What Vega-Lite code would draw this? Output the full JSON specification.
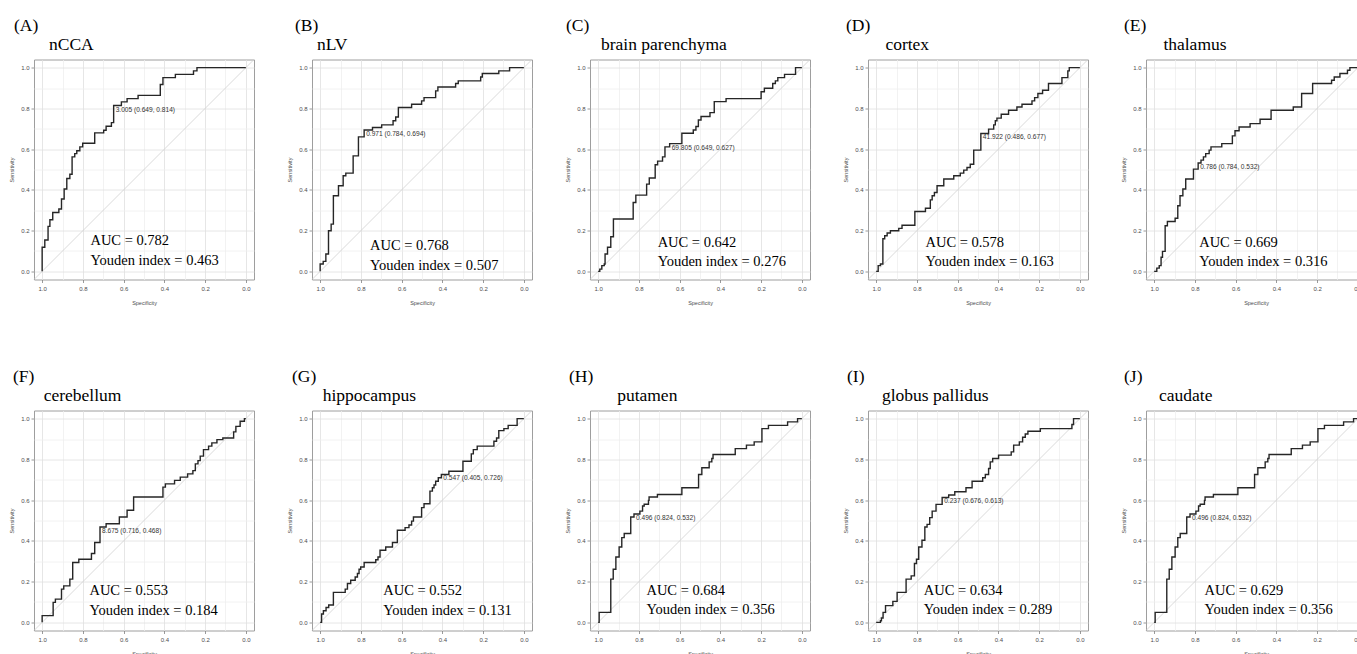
{
"$schema":"https://vega.github.io/schema/vega-lite/v6.json",
"padding":{"left":9,"top":16.5,"right":0,"bottom":0},
"columns":5,
"spacing":{"row":131,"column":58},
"bounds":"flush",
"datasets":{
"diag":[{"spec":1.04,"sens":-0.04},{"spec":-0.04,"sens":1.04}],
"thr":[
{"panel":"A","spec":0.649,"sens":0.814,"label":"3.005 (0.649, 0.814)"},
{"panel":"B","spec":0.784,"sens":0.694,"label":"0.971 (0.784, 0.694)"},
{"panel":"C","spec":0.649,"sens":0.627,"label":"69.805 (0.649, 0.627)"},
{"panel":"D","spec":0.486,"sens":0.677,"label":"41.922 (0.486, 0.677)"},
{"panel":"E","spec":0.784,"sens":0.532,"label":"0.786 (0.784, 0.532)"},
{"panel":"F","spec":0.716,"sens":0.468,"label":"8.675 (0.716, 0.468)"},
{"panel":"G","spec":0.405,"sens":0.726,"label":"0.547 (0.405, 0.726)"},
{"panel":"H","spec":0.824,"sens":0.532,"label":"0.496 (0.824, 0.532)"},
{"panel":"I","spec":0.676,"sens":0.613,"label":"0.237 (0.676, 0.613)"},
{"panel":"J","spec":0.824,"sens":0.532,"label":"0.496 (0.824, 0.532)"}
],
"auc":[
{"panel":"A","spec":0.763,"sens":0.147,"label":"AUC = 0.782"},
{"panel":"A","spec":0.763,"sens":0.049,"label":"Youden index = 0.463"},
{"panel":"B","spec":0.755,"sens":0.123,"label":"AUC = 0.768"},
{"panel":"B","spec":0.755,"sens":0.025,"label":"Youden index = 0.507"},
{"panel":"C","spec":0.708,"sens":0.141,"label":"AUC = 0.642"},
{"panel":"C","spec":0.708,"sens":0.044,"label":"Youden index = 0.276"},
{"panel":"D","spec":0.758,"sens":0.141,"label":"AUC = 0.578"},
{"panel":"D","spec":0.758,"sens":0.046,"label":"Youden index = 0.163"},
{"panel":"E","spec":0.779,"sens":0.139,"label":"AUC = 0.669"},
{"panel":"E","spec":0.779,"sens":0.047,"label":"Youden index = 0.316"},
{"panel":"F","spec":0.768,"sens":0.155,"label":"AUC = 0.553"},
{"panel":"F","spec":0.768,"sens":0.057,"label":"Youden index = 0.184"},
{"panel":"G","spec":0.690,"sens":0.155,"label":"AUC = 0.552"},
{"panel":"G","spec":0.690,"sens":0.057,"label":"Youden index = 0.131"},
{"panel":"H","spec":0.763,"sens":0.155,"label":"AUC = 0.684"},
{"panel":"H","spec":0.763,"sens":0.060,"label":"Youden index = 0.356"},
{"panel":"I","spec":0.766,"sens":0.155,"label":"AUC = 0.634"},
{"panel":"I","spec":0.766,"sens":0.060,"label":"Youden index = 0.289"},
{"panel":"J","spec":0.753,"sens":0.155,"label":"AUC = 0.629"},
{"panel":"J","spec":0.753,"sens":0.060,"label":"Youden index = 0.356"}
],
"roc":[
{"panel":"A","spec":1,"sens":0},{"panel":"A","spec":1,"sens":0.118},{"panel":"A","spec":0.987,"sens":0.154},{"panel":"A","spec":0.971,"sens":0.221},{"panel":"A","spec":0.962,"sens":0.253},{"panel":"A","spec":0.948,"sens":0.289},{"panel":"A","spec":0.918,"sens":0.306},{"panel":"A","spec":0.905,"sens":0.355},{"panel":"A","spec":0.892,"sens":0.404},{"panel":"A","spec":0.879,"sens":0.456},{"panel":"A","spec":0.864,"sens":0.477},{"panel":"A","spec":0.853,"sens":0.562},{"panel":"A","spec":0.840,"sens":0.578},{"panel":"A","spec":0.830,"sens":0.592},{"panel":"A","spec":0.815,"sens":0.611},{"panel":"A","spec":0.801,"sens":0.629},{"panel":"A","spec":0.742,"sens":0.680},{"panel":"A","spec":0.698,"sens":0.693},{"panel":"A","spec":0.686,"sens":0.712},{"panel":"A","spec":0.660,"sens":0.730},{"panel":"A","spec":0.649,"sens":0.814},{"panel":"A","spec":0.611,"sens":0.832},{"panel":"A","spec":0.583,"sens":0.848},{"panel":"A","spec":0.529,"sens":0.864},{"panel":"A","spec":0.420,"sens":0.917},{"panel":"A","spec":0.407,"sens":0.951},{"panel":"A","spec":0.346,"sens":0.967},{"panel":"A","spec":0.257,"sens":0.984},{"panel":"A","spec":0.240,"sens":1},{"panel":"A","spec":0,"sens":1},
{"panel":"B","spec":1,"sens":0},{"panel":"B","spec":1,"sens":0.036},{"panel":"B","spec":0.985,"sens":0.049},{"panel":"B","spec":0.972,"sens":0.085},{"panel":"B","spec":0.959,"sens":0.199},{"panel":"B","spec":0.946,"sens":0.232},{"panel":"B","spec":0.935,"sens":0.371},{"panel":"B","spec":0.910,"sens":0.420},{"panel":"B","spec":0.887,"sens":0.469},{"panel":"B","spec":0.874,"sens":0.482},{"panel":"B","spec":0.838,"sens":0.567},{"panel":"B","spec":0.812,"sens":0.660},{"panel":"B","spec":0.784,"sens":0.694},{"panel":"B","spec":0.743,"sens":0.706},{"panel":"B","spec":0.698,"sens":0.719},{"panel":"B","spec":0.642,"sens":0.739},{"panel":"B","spec":0.629,"sens":0.758},{"panel":"B","spec":0.616,"sens":0.804},{"panel":"B","spec":0.551,"sens":0.820},{"panel":"B","spec":0.502,"sens":0.837},{"panel":"B","spec":0.490,"sens":0.853},{"panel":"B","spec":0.433,"sens":0.886},{"panel":"B","spec":0.422,"sens":0.905},{"panel":"B","spec":0.335,"sens":0.922},{"panel":"B","spec":0.322,"sens":0.935},{"panel":"B","spec":0.212,"sens":0.954},{"panel":"B","spec":0.204,"sens":0.971},{"panel":"B","spec":0.123,"sens":0.984},{"panel":"B","spec":0.070,"sens":1},{"panel":"B","spec":0,"sens":1},
{"panel":"C","spec":1,"sens":0},{"panel":"C","spec":0.992,"sens":0.011},{"panel":"C","spec":0.982,"sens":0.028},{"panel":"C","spec":0.970,"sens":0.036},{"panel":"C","spec":0.966,"sens":0.085},{"panel":"C","spec":0.954,"sens":0.118},{"panel":"C","spec":0.938,"sens":0.170},{"panel":"C","spec":0.925,"sens":0.257},{"panel":"C","spec":0.828,"sens":0.338},{"panel":"C","spec":0.815,"sens":0.374},{"panel":"C","spec":0.762,"sens":0.428},{"panel":"C","spec":0.749,"sens":0.458},{"panel":"C","spec":0.720,"sens":0.523},{"panel":"C","spec":0.708,"sens":0.541},{"panel":"C","spec":0.684,"sens":0.562},{"panel":"C","spec":0.672,"sens":0.611},{"panel":"C","spec":0.649,"sens":0.627},{"panel":"C","spec":0.589,"sens":0.678},{"panel":"C","spec":0.533,"sens":0.694},{"panel":"C","spec":0.520,"sens":0.711},{"panel":"C","spec":0.508,"sens":0.743},{"panel":"C","spec":0.495,"sens":0.760},{"panel":"C","spec":0.451,"sens":0.779},{"panel":"C","spec":0.430,"sens":0.833},{"panel":"C","spec":0.372,"sens":0.848},{"panel":"C","spec":0.200,"sens":0.882},{"panel":"C","spec":0.184,"sens":0.899},{"panel":"C","spec":0.143,"sens":0.922},{"panel":"C","spec":0.130,"sens":0.935},{"panel":"C","spec":0.118,"sens":0.951},{"panel":"C","spec":0.085,"sens":0.967},{"panel":"C","spec":0.031,"sens":1},{"panel":"C","spec":0,"sens":1},
{"panel":"D","spec":1,"sens":0},{"panel":"D","spec":0.990,"sens":0.028},{"panel":"D","spec":0.979,"sens":0.036},{"panel":"D","spec":0.967,"sens":0.160},{"panel":"D","spec":0.958,"sens":0.175},{"panel":"D","spec":0.946,"sens":0.188},{"panel":"D","spec":0.930,"sens":0.199},{"panel":"D","spec":0.889,"sens":0.211},{"panel":"D","spec":0.873,"sens":0.226},{"panel":"D","spec":0.810,"sens":0.294},{"panel":"D","spec":0.758,"sens":0.310},{"panel":"D","spec":0.734,"sens":0.351},{"panel":"D","spec":0.725,"sens":0.371},{"panel":"D","spec":0.714,"sens":0.387},{"panel":"D","spec":0.701,"sens":0.420},{"panel":"D","spec":0.668,"sens":0.453},{"panel":"D","spec":0.619,"sens":0.469},{"panel":"D","spec":0.587,"sens":0.482},{"panel":"D","spec":0.570,"sens":0.497},{"panel":"D","spec":0.554,"sens":0.510},{"panel":"D","spec":0.538,"sens":0.526},{"panel":"D","spec":0.521,"sens":0.595},{"panel":"D","spec":0.486,"sens":0.677},{"panel":"D","spec":0.448,"sens":0.698},{"panel":"D","spec":0.423,"sens":0.719},{"panel":"D","spec":0.415,"sens":0.739},{"panel":"D","spec":0.407,"sens":0.752},{"panel":"D","spec":0.386,"sens":0.771},{"panel":"D","spec":0.350,"sens":0.791},{"panel":"D","spec":0.309,"sens":0.807},{"panel":"D","spec":0.284,"sens":0.820},{"panel":"D","spec":0.235,"sens":0.837},{"panel":"D","spec":0.222,"sens":0.853},{"panel":"D","spec":0.206,"sens":0.873},{"panel":"D","spec":0.183,"sens":0.889},{"panel":"D","spec":0.154,"sens":0.922},{"panel":"D","spec":0.088,"sens":0.951},{"panel":"D","spec":0.059,"sens":0.984},{"panel":"D","spec":0.052,"sens":1},{"panel":"D","spec":0,"sens":1},
{"panel":"E","spec":1,"sens":0},{"panel":"E","spec":0.987,"sens":0.016},{"panel":"E","spec":0.975,"sens":0.028},{"panel":"E","spec":0.966,"sens":0.069},{"panel":"E","spec":0.959,"sens":0.098},{"panel":"E","spec":0.946,"sens":0.224},{"panel":"E","spec":0.935,"sens":0.245},{"panel":"E","spec":0.897,"sens":0.261},{"panel":"E","spec":0.884,"sens":0.322},{"panel":"E","spec":0.873,"sens":0.371},{"panel":"E","spec":0.859,"sens":0.404},{"panel":"E","spec":0.845,"sens":0.453},{"panel":"E","spec":0.807,"sens":0.502},{"panel":"E","spec":0.784,"sens":0.532},{"panel":"E","spec":0.770,"sens":0.546},{"panel":"E","spec":0.758,"sens":0.562},{"panel":"E","spec":0.747,"sens":0.578},{"panel":"E","spec":0.730,"sens":0.595},{"panel":"E","spec":0.721,"sens":0.611},{"panel":"E","spec":0.668,"sens":0.627},{"panel":"E","spec":0.616,"sens":0.665},{"panel":"E","spec":0.603,"sens":0.690},{"panel":"E","spec":0.583,"sens":0.709},{"panel":"E","spec":0.529,"sens":0.725},{"panel":"E","spec":0.480,"sens":0.747},{"panel":"E","spec":0.426,"sens":0.791},{"panel":"E","spec":0.317,"sens":0.807},{"panel":"E","spec":0.276,"sens":0.873},{"panel":"E","spec":0.222,"sens":0.922},{"panel":"E","spec":0.129,"sens":0.938},{"panel":"E","spec":0.116,"sens":0.954},{"panel":"E","spec":0.088,"sens":0.971},{"panel":"E","spec":0.051,"sens":0.987},{"panel":"E","spec":0.039,"sens":1},{"panel":"E","spec":0,"sens":1},
{"panel":"F","spec":1,"sens":0},{"panel":"F","spec":1,"sens":0.033},{"panel":"F","spec":0.946,"sens":0.098},{"panel":"F","spec":0.935,"sens":0.114},{"panel":"F","spec":0.905,"sens":0.163},{"panel":"F","spec":0.894,"sens":0.179},{"panel":"F","spec":0.864,"sens":0.212},{"panel":"F","spec":0.850,"sens":0.294},{"panel":"F","spec":0.820,"sens":0.310},{"panel":"F","spec":0.758,"sens":0.338},{"panel":"F","spec":0.742,"sens":0.392},{"panel":"F","spec":0.716,"sens":0.468},{"panel":"F","spec":0.686,"sens":0.484},{"panel":"F","spec":0.621,"sens":0.517},{"panel":"F","spec":0.583,"sens":0.550},{"panel":"F","spec":0.551,"sens":0.615},{"panel":"F","spec":0.407,"sens":0.664},{"panel":"F","spec":0.395,"sens":0.680},{"panel":"F","spec":0.350,"sens":0.697},{"panel":"F","spec":0.322,"sens":0.713},{"panel":"F","spec":0.286,"sens":0.729},{"panel":"F","spec":0.260,"sens":0.745},{"panel":"F","spec":0.248,"sens":0.778},{"panel":"F","spec":0.235,"sens":0.794},{"panel":"F","spec":0.224,"sens":0.816},{"panel":"F","spec":0.208,"sens":0.848},{"panel":"F","spec":0.183,"sens":0.865},{"panel":"F","spec":0.167,"sens":0.881},{"panel":"F","spec":0.142,"sens":0.897},{"panel":"F","spec":0.113,"sens":0.905},{"panel":"F","spec":0.060,"sens":0.935},{"panel":"F","spec":0.049,"sens":0.962},{"panel":"F","spec":0.028,"sens":0.987},{"panel":"F","spec":0.007,"sens":1},{"panel":"F","spec":0,"sens":1},
{"panel":"G","spec":1,"sens":0},{"panel":"G","spec":0.993,"sens":0.041},{"panel":"G","spec":0.984,"sens":0.057},{"panel":"G","spec":0.971,"sens":0.073},{"panel":"G","spec":0.958,"sens":0.085},{"panel":"G","spec":0.935,"sens":0.147},{"panel":"G","spec":0.877,"sens":0.163},{"panel":"G","spec":0.866,"sens":0.191},{"panel":"G","spec":0.850,"sens":0.207},{"panel":"G","spec":0.828,"sens":0.223},{"panel":"G","spec":0.817,"sens":0.240},{"panel":"G","spec":0.809,"sens":0.261},{"panel":"G","spec":0.801,"sens":0.272},{"panel":"G","spec":0.784,"sens":0.294},{"panel":"G","spec":0.727,"sens":0.307},{"panel":"G","spec":0.716,"sens":0.321},{"panel":"G","spec":0.706,"sens":0.354},{"panel":"G","spec":0.678,"sens":0.370},{"panel":"G","spec":0.645,"sens":0.392},{"panel":"G","spec":0.621,"sens":0.452},{"panel":"G","spec":0.583,"sens":0.465},{"panel":"G","spec":0.564,"sens":0.478},{"panel":"G","spec":0.551,"sens":0.497},{"panel":"G","spec":0.542,"sens":0.517},{"panel":"G","spec":0.502,"sens":0.563},{"panel":"G","spec":0.490,"sens":0.582},{"panel":"G","spec":0.461,"sens":0.644},{"panel":"G","spec":0.449,"sens":0.661},{"panel":"G","spec":0.441,"sens":0.674},{"panel":"G","spec":0.433,"sens":0.693},{"panel":"G","spec":0.420,"sens":0.710},{"panel":"G","spec":0.405,"sens":0.726},{"panel":"G","spec":0.368,"sens":0.742},{"panel":"G","spec":0.299,"sens":0.791},{"panel":"G","spec":0.258,"sens":0.827},{"panel":"G","spec":0.248,"sens":0.848},{"panel":"G","spec":0.229,"sens":0.865},{"panel":"G","spec":0.147,"sens":0.889},{"panel":"G","spec":0.134,"sens":0.905},{"panel":"G","spec":0.123,"sens":0.941},{"panel":"G","spec":0.098,"sens":0.951},{"panel":"G","spec":0.077,"sens":0.967},{"panel":"G","spec":0.033,"sens":1},{"panel":"G","spec":0,"sens":1},
{"panel":"H","spec":1,"sens":0},{"panel":"H","spec":0.995,"sens":0.049},{"panel":"H","spec":0.938,"sens":0.212},{"panel":"H","spec":0.926,"sens":0.261},{"panel":"H","spec":0.913,"sens":0.321},{"panel":"H","spec":0.897,"sens":0.370},{"panel":"H","spec":0.884,"sens":0.416},{"panel":"H","spec":0.872,"sens":0.436},{"panel":"H","spec":0.840,"sens":0.517},{"panel":"H","spec":0.824,"sens":0.532},{"panel":"H","spec":0.795,"sens":0.546},{"panel":"H","spec":0.782,"sens":0.571},{"panel":"H","spec":0.774,"sens":0.580},{"panel":"H","spec":0.753,"sens":0.599},{"panel":"H","spec":0.750,"sens":0.615},{"panel":"H","spec":0.709,"sens":0.628},{"panel":"H","spec":0.589,"sens":0.661},{"panel":"H","spec":0.507,"sens":0.726},{"panel":"H","spec":0.491,"sens":0.759},{"panel":"H","spec":0.455,"sens":0.788},{"panel":"H","spec":0.442,"sens":0.804},{"panel":"H","spec":0.436,"sens":0.824},{"panel":"H","spec":0.327,"sens":0.853},{"panel":"H","spec":0.272,"sens":0.870},{"panel":"H","spec":0.234,"sens":0.886},{"panel":"H","spec":0.196,"sens":0.951},{"panel":"H","spec":0.164,"sens":0.967},{"panel":"H","spec":0.070,"sens":0.984},{"panel":"H","spec":0.021,"sens":1},{"panel":"H","spec":0,"sens":1},
{"panel":"I","spec":1,"sens":0},{"panel":"I","spec":0.979,"sens":0.008},{"panel":"I","spec":0.974,"sens":0.021},{"panel":"I","spec":0.966,"sens":0.049},{"panel":"I","spec":0.954,"sens":0.082},{"panel":"I","spec":0.918,"sens":0.103},{"panel":"I","spec":0.897,"sens":0.147},{"panel":"I","spec":0.853,"sens":0.212},{"panel":"I","spec":0.828,"sens":0.228},{"panel":"I","spec":0.812,"sens":0.289},{"panel":"I","spec":0.802,"sens":0.310},{"panel":"I","spec":0.791,"sens":0.370},{"panel":"I","spec":0.775,"sens":0.403},{"panel":"I","spec":0.761,"sens":0.468},{"panel":"I","spec":0.750,"sens":0.481},{"panel":"I","spec":0.737,"sens":0.514},{"panel":"I","spec":0.725,"sens":0.546},{"panel":"I","spec":0.706,"sens":0.579},{"panel":"I","spec":0.676,"sens":0.613},{"panel":"I","spec":0.644,"sens":0.625},{"panel":"I","spec":0.614,"sens":0.641},{"panel":"I","spec":0.559,"sens":0.661},{"panel":"I","spec":0.529,"sens":0.693},{"panel":"I","spec":0.477,"sens":0.710},{"panel":"I","spec":0.464,"sens":0.726},{"panel":"I","spec":0.448,"sens":0.755},{"panel":"I","spec":0.440,"sens":0.788},{"panel":"I","spec":0.428,"sens":0.804},{"panel":"I","spec":0.399,"sens":0.821},{"panel":"I","spec":0.337,"sens":0.837},{"panel":"I","spec":0.325,"sens":0.870},{"panel":"I","spec":0.297,"sens":0.886},{"panel":"I","spec":0.281,"sens":0.909},{"panel":"I","spec":0.268,"sens":0.925},{"panel":"I","spec":0.255,"sens":0.938},{"panel":"I","spec":0.194,"sens":0.951},{"panel":"I","spec":0.039,"sens":0.971},{"panel":"I","spec":0.031,"sens":1},{"panel":"I","spec":0,"sens":1},
{"panel":"J","spec":1,"sens":0},{"panel":"J","spec":0.995,"sens":0.049},{"panel":"J","spec":0.938,"sens":0.212},{"panel":"J","spec":0.926,"sens":0.261},{"panel":"J","spec":0.913,"sens":0.321},{"panel":"J","spec":0.897,"sens":0.370},{"panel":"J","spec":0.884,"sens":0.416},{"panel":"J","spec":0.872,"sens":0.436},{"panel":"J","spec":0.840,"sens":0.517},{"panel":"J","spec":0.824,"sens":0.532},{"panel":"J","spec":0.795,"sens":0.546},{"panel":"J","spec":0.782,"sens":0.571},{"panel":"J","spec":0.774,"sens":0.580},{"panel":"J","spec":0.753,"sens":0.599},{"panel":"J","spec":0.750,"sens":0.615},{"panel":"J","spec":0.709,"sens":0.628},{"panel":"J","spec":0.589,"sens":0.661},{"panel":"J","spec":0.507,"sens":0.726},{"panel":"J","spec":0.491,"sens":0.759},{"panel":"J","spec":0.455,"sens":0.788},{"panel":"J","spec":0.442,"sens":0.804},{"panel":"J","spec":0.436,"sens":0.824},{"panel":"J","spec":0.327,"sens":0.853},{"panel":"J","spec":0.272,"sens":0.870},{"panel":"J","spec":0.234,"sens":0.886},{"panel":"J","spec":0.196,"sens":0.951},{"panel":"J","spec":0.164,"sens":0.967},{"panel":"J","spec":0.070,"sens":0.984},{"panel":"J","spec":0.021,"sens":1},{"panel":"J","spec":0,"sens":1}
]
},
"concat":[
{"width":220,"height":220,"title":{"text":"(A)","subtitle":"\u200b\u00a0\u00a0\u00a0\u00a0\u00a0\u00a0\u00a0\u00a0nCCA","dx":-20},
"encoding":{"x":{"field":"spec","type":"quantitative","title":"Specificity","scale":{"domain":[-0.04,1.04],"reverse":true,"nice":false,"zero":false},"axis":{"values":[0,0.1,0.2,0.3,0.4,0.5,0.6,0.7,0.8,0.9,1],"labelExpr":"round(datum.value*10)%2==0 ? format(datum.value,'.1f') : ''","tickOpacity":{"condition":{"test":"round(datum.value*10)%2==0","value":1},"value":0},"gridColor":{"condition":{"test":"round(datum.value*10)%2==0","value":"#e0e0e0"},"value":"#efefef"}}},
"y":{"field":"sens","type":"quantitative","title":"Sensitivity","scale":{"domain":[-0.04,1.04],"nice":false,"zero":false},"axis":{"values":[0,0.1,0.2,0.3,0.4,0.5,0.6,0.7,0.8,0.9,1],"labelExpr":"round(datum.value*10)%2==0 ? format(datum.value,'.1f') : ''","tickOpacity":{"condition":{"test":"round(datum.value*10)%2==0","value":1},"value":0},"gridColor":{"condition":{"test":"round(datum.value*10)%2==0","value":"#e0e0e0"},"value":"#efefef"}}}},
"layer":[
{"data":{"name":"diag"},"mark":{"type":"line","color":"#d0d0d0","strokeWidth":0.8}},
{"data":{"name":"roc"},"transform":[{"filter":"datum.panel=='A'"}],"mark":{"type":"line","interpolate":"step-after","color":"#262626","strokeWidth":1.4},"encoding":{"order":[{"field":"spec","sort":"descending"},{"field":"sens","sort":"ascending"}]}},
{"data":{"name":"thr"},"transform":[{"filter":"datum.panel=='A'"}],"mark":{"type":"text","align":"left","baseline":"top","dx":2,"dy":1,"font":"Liberation Sans","fontSize":6.6,"color":"#333333"},"encoding":{"text":{"field":"label"}}},
{"data":{"name":"auc"},"transform":[{"filter":"datum.panel=='A'"}],"mark":{"type":"text","align":"left","baseline":"middle","font":"Liberation Serif","fontSize":14.5,"color":"black"},"encoding":{"text":{"field":"label"}}}
]},
{"width":220,"height":220,"title":{"text":"(B)","subtitle":"\u200b\u00a0\u00a0\u00a0\u00a0\u00a0nLV","dx":-17},
"encoding":{"x":{"field":"spec","type":"quantitative","title":"Specificity","scale":{"domain":[-0.04,1.04],"reverse":true,"nice":false,"zero":false},"axis":{"values":[0,0.1,0.2,0.3,0.4,0.5,0.6,0.7,0.8,0.9,1],"labelExpr":"round(datum.value*10)%2==0 ? format(datum.value,'.1f') : ''","tickOpacity":{"condition":{"test":"round(datum.value*10)%2==0","value":1},"value":0},"gridColor":{"condition":{"test":"round(datum.value*10)%2==0","value":"#e0e0e0"},"value":"#efefef"}}},
"y":{"field":"sens","type":"quantitative","title":"Sensitivity","scale":{"domain":[-0.04,1.04],"nice":false,"zero":false},"axis":{"values":[0,0.1,0.2,0.3,0.4,0.5,0.6,0.7,0.8,0.9,1],"labelExpr":"round(datum.value*10)%2==0 ? format(datum.value,'.1f') : ''","tickOpacity":{"condition":{"test":"round(datum.value*10)%2==0","value":1},"value":0},"gridColor":{"condition":{"test":"round(datum.value*10)%2==0","value":"#e0e0e0"},"value":"#efefef"}}}},
"layer":[
{"data":{"name":"diag"},"mark":{"type":"line","color":"#d0d0d0","strokeWidth":0.8}},
{"data":{"name":"roc"},"transform":[{"filter":"datum.panel=='B'"}],"mark":{"type":"line","interpolate":"step-after","color":"#262626","strokeWidth":1.4},"encoding":{"order":[{"field":"spec","sort":"descending"},{"field":"sens","sort":"ascending"}]}},
{"data":{"name":"thr"},"transform":[{"filter":"datum.panel=='B'"}],"mark":{"type":"text","align":"left","baseline":"top","dx":2,"dy":1,"font":"Liberation Sans","fontSize":6.6,"color":"#333333"},"encoding":{"text":{"field":"label"}}},
{"data":{"name":"auc"},"transform":[{"filter":"datum.panel=='B'"}],"mark":{"type":"text","align":"left","baseline":"middle","font":"Liberation Serif","fontSize":14.5,"color":"black"},"encoding":{"text":{"field":"label"}}}
]},
{"width":220,"height":220,"title":{"text":"(C)","subtitle":"\u200b\u00a0\u00a0\u00a0\u00a0\u00a0\u00a0\u00a0\u00a0brain parenchyma","dx":-24},
"encoding":{"x":{"field":"spec","type":"quantitative","title":"Specificity","scale":{"domain":[-0.04,1.04],"reverse":true,"nice":false,"zero":false},"axis":{"values":[0,0.1,0.2,0.3,0.4,0.5,0.6,0.7,0.8,0.9,1],"labelExpr":"round(datum.value*10)%2==0 ? format(datum.value,'.1f') : ''","tickOpacity":{"condition":{"test":"round(datum.value*10)%2==0","value":1},"value":0},"gridColor":{"condition":{"test":"round(datum.value*10)%2==0","value":"#e0e0e0"},"value":"#efefef"}}},
"y":{"field":"sens","type":"quantitative","title":"Sensitivity","scale":{"domain":[-0.04,1.04],"nice":false,"zero":false},"axis":{"values":[0,0.1,0.2,0.3,0.4,0.5,0.6,0.7,0.8,0.9,1],"labelExpr":"round(datum.value*10)%2==0 ? format(datum.value,'.1f') : ''","tickOpacity":{"condition":{"test":"round(datum.value*10)%2==0","value":1},"value":0},"gridColor":{"condition":{"test":"round(datum.value*10)%2==0","value":"#e0e0e0"},"value":"#efefef"}}}},
"layer":[
{"data":{"name":"diag"},"mark":{"type":"line","color":"#d0d0d0","strokeWidth":0.8}},
{"data":{"name":"roc"},"transform":[{"filter":"datum.panel=='C'"}],"mark":{"type":"line","interpolate":"step-after","color":"#262626","strokeWidth":1.4},"encoding":{"order":[{"field":"spec","sort":"descending"},{"field":"sens","sort":"ascending"}]}},
{"data":{"name":"thr"},"transform":[{"filter":"datum.panel=='C'"}],"mark":{"type":"text","align":"left","baseline":"top","dx":2,"dy":1,"font":"Liberation Sans","fontSize":6.6,"color":"#333333"},"encoding":{"text":{"field":"label"}}},
{"data":{"name":"auc"},"transform":[{"filter":"datum.panel=='C'"}],"mark":{"type":"text","align":"left","baseline":"middle","font":"Liberation Serif","fontSize":14.5,"color":"black"},"encoding":{"text":{"field":"label"}}}
]},
{"width":220,"height":220,"title":{"text":"(D)","subtitle":"\u200b\u00a0\u00a0\u00a0\u00a0\u00a0\u00a0\u00a0\u00a0\u00a0cortex","dx":-22},
"encoding":{"x":{"field":"spec","type":"quantitative","title":"Specificity","scale":{"domain":[-0.04,1.04],"reverse":true,"nice":false,"zero":false},"axis":{"values":[0,0.1,0.2,0.3,0.4,0.5,0.6,0.7,0.8,0.9,1],"labelExpr":"round(datum.value*10)%2==0 ? format(datum.value,'.1f') : ''","tickOpacity":{"condition":{"test":"round(datum.value*10)%2==0","value":1},"value":0},"gridColor":{"condition":{"test":"round(datum.value*10)%2==0","value":"#e0e0e0"},"value":"#efefef"}}},
"y":{"field":"sens","type":"quantitative","title":"Sensitivity","scale":{"domain":[-0.04,1.04],"nice":false,"zero":false},"axis":{"values":[0,0.1,0.2,0.3,0.4,0.5,0.6,0.7,0.8,0.9,1],"labelExpr":"round(datum.value*10)%2==0 ? format(datum.value,'.1f') : ''","tickOpacity":{"condition":{"test":"round(datum.value*10)%2==0","value":1},"value":0},"gridColor":{"condition":{"test":"round(datum.value*10)%2==0","value":"#e0e0e0"},"value":"#efefef"}}}},
"layer":[
{"data":{"name":"diag"},"mark":{"type":"line","color":"#d0d0d0","strokeWidth":0.8}},
{"data":{"name":"roc"},"transform":[{"filter":"datum.panel=='D'"}],"mark":{"type":"line","interpolate":"step-after","color":"#262626","strokeWidth":1.4},"encoding":{"order":[{"field":"spec","sort":"descending"},{"field":"sens","sort":"ascending"}]}},
{"data":{"name":"thr"},"transform":[{"filter":"datum.panel=='D'"}],"mark":{"type":"text","align":"left","baseline":"top","dx":2,"dy":1,"font":"Liberation Sans","fontSize":6.6,"color":"#333333"},"encoding":{"text":{"field":"label"}}},
{"data":{"name":"auc"},"transform":[{"filter":"datum.panel=='D'"}],"mark":{"type":"text","align":"left","baseline":"middle","font":"Liberation Serif","fontSize":14.5,"color":"black"},"encoding":{"text":{"field":"label"}}}
]},
{"width":220,"height":220,"title":{"text":"(E)","subtitle":"\u200b\u00a0\u00a0\u00a0\u00a0\u00a0\u00a0\u00a0\u00a0\u00a0thalamus","dx":-22},
"encoding":{"x":{"field":"spec","type":"quantitative","title":"Specificity","scale":{"domain":[-0.04,1.04],"reverse":true,"nice":false,"zero":false},"axis":{"values":[0,0.1,0.2,0.3,0.4,0.5,0.6,0.7,0.8,0.9,1],"labelExpr":"round(datum.value*10)%2==0 ? format(datum.value,'.1f') : ''","tickOpacity":{"condition":{"test":"round(datum.value*10)%2==0","value":1},"value":0},"gridColor":{"condition":{"test":"round(datum.value*10)%2==0","value":"#e0e0e0"},"value":"#efefef"}}},
"y":{"field":"sens","type":"quantitative","title":"Sensitivity","scale":{"domain":[-0.04,1.04],"nice":false,"zero":false},"axis":{"values":[0,0.1,0.2,0.3,0.4,0.5,0.6,0.7,0.8,0.9,1],"labelExpr":"round(datum.value*10)%2==0 ? format(datum.value,'.1f') : ''","tickOpacity":{"condition":{"test":"round(datum.value*10)%2==0","value":1},"value":0},"gridColor":{"condition":{"test":"round(datum.value*10)%2==0","value":"#e0e0e0"},"value":"#efefef"}}}},
"layer":[
{"data":{"name":"diag"},"mark":{"type":"line","color":"#d0d0d0","strokeWidth":0.8}},
{"data":{"name":"roc"},"transform":[{"filter":"datum.panel=='E'"}],"mark":{"type":"line","interpolate":"step-after","color":"#262626","strokeWidth":1.4},"encoding":{"order":[{"field":"spec","sort":"descending"},{"field":"sens","sort":"ascending"}]}},
{"data":{"name":"thr"},"transform":[{"filter":"datum.panel=='E'"}],"mark":{"type":"text","align":"left","baseline":"top","dx":2,"dy":1,"font":"Liberation Sans","fontSize":6.6,"color":"#333333"},"encoding":{"text":{"field":"label"}}},
{"data":{"name":"auc"},"transform":[{"filter":"datum.panel=='E'"}],"mark":{"type":"text","align":"left","baseline":"middle","font":"Liberation Serif","fontSize":14.5,"color":"black"},"encoding":{"text":{"field":"label"}}}
]},
{"width":220,"height":220,"title":{"text":"(F)","subtitle":"\u200b\u00a0\u00a0\u00a0\u00a0\u00a0\u00a0\u00a0cerebellum","dx":-21},
"encoding":{"x":{"field":"spec","type":"quantitative","title":"Specificity","scale":{"domain":[-0.04,1.04],"reverse":true,"nice":false,"zero":false},"axis":{"values":[0,0.1,0.2,0.3,0.4,0.5,0.6,0.7,0.8,0.9,1],"labelExpr":"round(datum.value*10)%2==0 ? format(datum.value,'.1f') : ''","tickOpacity":{"condition":{"test":"round(datum.value*10)%2==0","value":1},"value":0},"gridColor":{"condition":{"test":"round(datum.value*10)%2==0","value":"#e0e0e0"},"value":"#efefef"}}},
"y":{"field":"sens","type":"quantitative","title":"Sensitivity","scale":{"domain":[-0.04,1.04],"nice":false,"zero":false},"axis":{"values":[0,0.1,0.2,0.3,0.4,0.5,0.6,0.7,0.8,0.9,1],"labelExpr":"round(datum.value*10)%2==0 ? format(datum.value,'.1f') : ''","tickOpacity":{"condition":{"test":"round(datum.value*10)%2==0","value":1},"value":0},"gridColor":{"condition":{"test":"round(datum.value*10)%2==0","value":"#e0e0e0"},"value":"#efefef"}}}},
"layer":[
{"data":{"name":"diag"},"mark":{"type":"line","color":"#d0d0d0","strokeWidth":0.8}},
{"data":{"name":"roc"},"transform":[{"filter":"datum.panel=='F'"}],"mark":{"type":"line","interpolate":"step-after","color":"#262626","strokeWidth":1.4},"encoding":{"order":[{"field":"spec","sort":"descending"},{"field":"sens","sort":"ascending"}]}},
{"data":{"name":"thr"},"transform":[{"filter":"datum.panel=='F'"}],"mark":{"type":"text","align":"left","baseline":"top","dx":2,"dy":1,"font":"Liberation Sans","fontSize":6.6,"color":"#333333"},"encoding":{"text":{"field":"label"}}},
{"data":{"name":"auc"},"transform":[{"filter":"datum.panel=='F'"}],"mark":{"type":"text","align":"left","baseline":"middle","font":"Liberation Serif","fontSize":14.5,"color":"black"},"encoding":{"text":{"field":"label"}}}
]},
{"width":220,"height":220,"title":{"text":"(G)","subtitle":"\u200b\u00a0\u00a0\u00a0\u00a0\u00a0\u00a0\u00a0hippocampus","dx":-20},
"encoding":{"x":{"field":"spec","type":"quantitative","title":"Specificity","scale":{"domain":[-0.04,1.04],"reverse":true,"nice":false,"zero":false},"axis":{"values":[0,0.1,0.2,0.3,0.4,0.5,0.6,0.7,0.8,0.9,1],"labelExpr":"round(datum.value*10)%2==0 ? format(datum.value,'.1f') : ''","tickOpacity":{"condition":{"test":"round(datum.value*10)%2==0","value":1},"value":0},"gridColor":{"condition":{"test":"round(datum.value*10)%2==0","value":"#e0e0e0"},"value":"#efefef"}}},
"y":{"field":"sens","type":"quantitative","title":"Sensitivity","scale":{"domain":[-0.04,1.04],"nice":false,"zero":false},"axis":{"values":[0,0.1,0.2,0.3,0.4,0.5,0.6,0.7,0.8,0.9,1],"labelExpr":"round(datum.value*10)%2==0 ? format(datum.value,'.1f') : ''","tickOpacity":{"condition":{"test":"round(datum.value*10)%2==0","value":1},"value":0},"gridColor":{"condition":{"test":"round(datum.value*10)%2==0","value":"#e0e0e0"},"value":"#efefef"}}}},
"layer":[
{"data":{"name":"diag"},"mark":{"type":"line","color":"#d0d0d0","strokeWidth":0.8}},
{"data":{"name":"roc"},"transform":[{"filter":"datum.panel=='G'"}],"mark":{"type":"line","interpolate":"step-after","color":"#262626","strokeWidth":1.4},"encoding":{"order":[{"field":"spec","sort":"descending"},{"field":"sens","sort":"ascending"}]}},
{"data":{"name":"thr"},"transform":[{"filter":"datum.panel=='G'"}],"mark":{"type":"text","align":"left","baseline":"top","dx":2,"dy":1,"font":"Liberation Sans","fontSize":6.6,"color":"#333333"},"encoding":{"text":{"field":"label"}}},
{"data":{"name":"auc"},"transform":[{"filter":"datum.panel=='G'"}],"mark":{"type":"text","align":"left","baseline":"middle","font":"Liberation Serif","fontSize":14.5,"color":"black"},"encoding":{"text":{"field":"label"}}}
]},
{"width":220,"height":220,"title":{"text":"(H)","subtitle":"\u200b\u00a0\u00a0\u00a0\u00a0\u00a0\u00a0\u00a0\u00a0\u00a0\u00a0\u00a0putamen","dx":-21},
"encoding":{"x":{"field":"spec","type":"quantitative","title":"Specificity","scale":{"domain":[-0.04,1.04],"reverse":true,"nice":false,"zero":false},"axis":{"values":[0,0.1,0.2,0.3,0.4,0.5,0.6,0.7,0.8,0.9,1],"labelExpr":"round(datum.value*10)%2==0 ? format(datum.value,'.1f') : ''","tickOpacity":{"condition":{"test":"round(datum.value*10)%2==0","value":1},"value":0},"gridColor":{"condition":{"test":"round(datum.value*10)%2==0","value":"#e0e0e0"},"value":"#efefef"}}},
"y":{"field":"sens","type":"quantitative","title":"Sensitivity","scale":{"domain":[-0.04,1.04],"nice":false,"zero":false},"axis":{"values":[0,0.1,0.2,0.3,0.4,0.5,0.6,0.7,0.8,0.9,1],"labelExpr":"round(datum.value*10)%2==0 ? format(datum.value,'.1f') : ''","tickOpacity":{"condition":{"test":"round(datum.value*10)%2==0","value":1},"value":0},"gridColor":{"condition":{"test":"round(datum.value*10)%2==0","value":"#e0e0e0"},"value":"#efefef"}}}},
"layer":[
{"data":{"name":"diag"},"mark":{"type":"line","color":"#d0d0d0","strokeWidth":0.8}},
{"data":{"name":"roc"},"transform":[{"filter":"datum.panel=='H'"}],"mark":{"type":"line","interpolate":"step-after","color":"#262626","strokeWidth":1.4},"encoding":{"order":[{"field":"spec","sort":"descending"},{"field":"sens","sort":"ascending"}]}},
{"data":{"name":"thr"},"transform":[{"filter":"datum.panel=='H'"}],"mark":{"type":"text","align":"left","baseline":"top","dx":2,"dy":1,"font":"Liberation Sans","fontSize":6.6,"color":"#333333"},"encoding":{"text":{"field":"label"}}},
{"data":{"name":"auc"},"transform":[{"filter":"datum.panel=='H'"}],"mark":{"type":"text","align":"left","baseline":"middle","font":"Liberation Serif","fontSize":14.5,"color":"black"},"encoding":{"text":{"field":"label"}}}
]},
{"width":220,"height":220,"title":{"text":"(I)","subtitle":"\u200b\u00a0\u00a0\u00a0\u00a0\u00a0\u00a0\u00a0\u00a0globus pallidus","dx":-21},
"encoding":{"x":{"field":"spec","type":"quantitative","title":"Specificity","scale":{"domain":[-0.04,1.04],"reverse":true,"nice":false,"zero":false},"axis":{"values":[0,0.1,0.2,0.3,0.4,0.5,0.6,0.7,0.8,0.9,1],"labelExpr":"round(datum.value*10)%2==0 ? format(datum.value,'.1f') : ''","tickOpacity":{"condition":{"test":"round(datum.value*10)%2==0","value":1},"value":0},"gridColor":{"condition":{"test":"round(datum.value*10)%2==0","value":"#e0e0e0"},"value":"#efefef"}}},
"y":{"field":"sens","type":"quantitative","title":"Sensitivity","scale":{"domain":[-0.04,1.04],"nice":false,"zero":false},"axis":{"values":[0,0.1,0.2,0.3,0.4,0.5,0.6,0.7,0.8,0.9,1],"labelExpr":"round(datum.value*10)%2==0 ? format(datum.value,'.1f') : ''","tickOpacity":{"condition":{"test":"round(datum.value*10)%2==0","value":1},"value":0},"gridColor":{"condition":{"test":"round(datum.value*10)%2==0","value":"#e0e0e0"},"value":"#efefef"}}}},
"layer":[
{"data":{"name":"diag"},"mark":{"type":"line","color":"#d0d0d0","strokeWidth":0.8}},
{"data":{"name":"roc"},"transform":[{"filter":"datum.panel=='I'"}],"mark":{"type":"line","interpolate":"step-after","color":"#262626","strokeWidth":1.4},"encoding":{"order":[{"field":"spec","sort":"descending"},{"field":"sens","sort":"ascending"}]}},
{"data":{"name":"thr"},"transform":[{"filter":"datum.panel=='I'"}],"mark":{"type":"text","align":"left","baseline":"top","dx":2,"dy":1,"font":"Liberation Sans","fontSize":6.6,"color":"#333333"},"encoding":{"text":{"field":"label"}}},
{"data":{"name":"auc"},"transform":[{"filter":"datum.panel=='I'"}],"mark":{"type":"text","align":"left","baseline":"middle","font":"Liberation Serif","fontSize":14.5,"color":"black"},"encoding":{"text":{"field":"label"}}}
]},
{"width":220,"height":220,"title":{"text":"(J)","subtitle":"\u200b\u00a0\u00a0\u00a0\u00a0\u00a0\u00a0\u00a0\u00a0caudate","dx":-22},
"encoding":{"x":{"field":"spec","type":"quantitative","title":"Specificity","scale":{"domain":[-0.04,1.04],"reverse":true,"nice":false,"zero":false},"axis":{"values":[0,0.1,0.2,0.3,0.4,0.5,0.6,0.7,0.8,0.9,1],"labelExpr":"round(datum.value*10)%2==0 ? format(datum.value,'.1f') : ''","tickOpacity":{"condition":{"test":"round(datum.value*10)%2==0","value":1},"value":0},"gridColor":{"condition":{"test":"round(datum.value*10)%2==0","value":"#e0e0e0"},"value":"#efefef"}}},
"y":{"field":"sens","type":"quantitative","title":"Sensitivity","scale":{"domain":[-0.04,1.04],"nice":false,"zero":false},"axis":{"values":[0,0.1,0.2,0.3,0.4,0.5,0.6,0.7,0.8,0.9,1],"labelExpr":"round(datum.value*10)%2==0 ? format(datum.value,'.1f') : ''","tickOpacity":{"condition":{"test":"round(datum.value*10)%2==0","value":1},"value":0},"gridColor":{"condition":{"test":"round(datum.value*10)%2==0","value":"#e0e0e0"},"value":"#efefef"}}}},
"layer":[
{"data":{"name":"diag"},"mark":{"type":"line","color":"#d0d0d0","strokeWidth":0.8}},
{"data":{"name":"roc"},"transform":[{"filter":"datum.panel=='J'"}],"mark":{"type":"line","interpolate":"step-after","color":"#262626","strokeWidth":1.4},"encoding":{"order":[{"field":"spec","sort":"descending"},{"field":"sens","sort":"ascending"}]}},
{"data":{"name":"thr"},"transform":[{"filter":"datum.panel=='J'"}],"mark":{"type":"text","align":"left","baseline":"top","dx":2,"dy":1,"font":"Liberation Sans","fontSize":6.6,"color":"#333333"},"encoding":{"text":{"field":"label"}}},
{"data":{"name":"auc"},"transform":[{"filter":"datum.panel=='J'"}],"mark":{"type":"text","align":"left","baseline":"middle","font":"Liberation Serif","fontSize":14.5,"color":"black"},"encoding":{"text":{"field":"label"}}}
]}
],
"config":{
"view":{"stroke":"#9e9e9e","strokeWidth":1},
"axis":{"domain":false,"grid":true,"gridWidth":0.8,"tickColor":"#808080","tickSize":3,"tickWidth":0.8,"labelFont":"Liberation Sans","labelFontSize":6,"labelColor":"#4d4d4d","labelPadding":2,"labelFlush":false,"labelOverlap":false,"titleFont":"Liberation Sans","titleFontSize":5.5,"titleFontWeight":"normal","titleColor":"#4d4d4d"},
"axisX":{"titlePadding":9,"labelPadding":3},
"axisY":{"titlePadding":6},
"title":{"anchor":"start","frame":"group","font":"Liberation Serif","fontSize":17.5,"fontWeight":"normal","color":"black","subtitleFont":"Liberation Serif","subtitleFontSize":17.5,"subtitleColor":"black","subtitlePadding":1.5,"offset":4}
}
}
